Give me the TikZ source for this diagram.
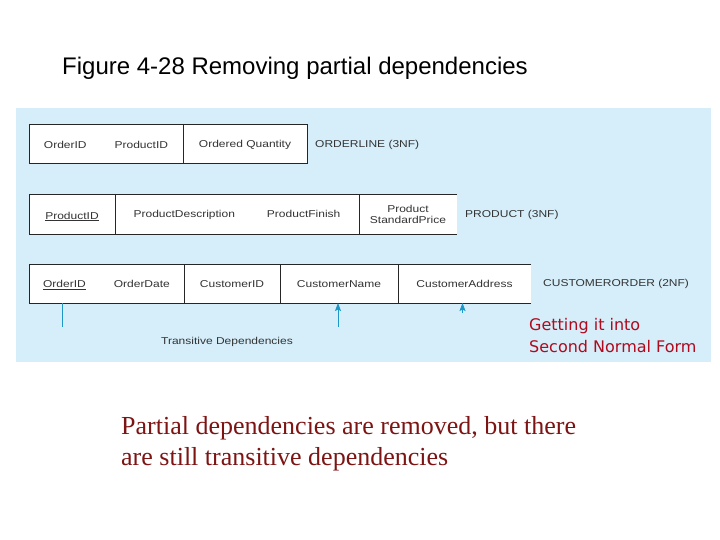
\documentclass[tikz,border=0pt]{standalone}
\usepackage{fontspec}
\setmainfont{Liberation Serif}
\newfontfamily\titlefont{Liberation Sans}
\newfontfamily\cellfont[FakeStretch=1.2]{Liberation Sans}
\newfontfamily\notefont{DejaVu Sans}
\usetikzlibrary{arrows.meta, positioning}
\definecolor{fundoA}{RGB}{213,238,250}
\definecolor{azulD}{RGB}{30,150,200}
\definecolor{vermelhoN}{RGB}{175,10,30}
\definecolor{vinhoT}{RGB}{125,20,20}
\newcommand{\chave}[1]{\raisebox{0pt}[\height][0pt]{\underline{#1}}}

\begin{document}
\begin{tikzpicture}[x=1pt, y=-1pt,
    attr/.style={rectangle, draw=black!85, line width=1pt, fill=white,
      minimum height=39pt, inner sep=0pt, outer sep=0pt,
      font=\cellfont\fontsize{10}{11.5}\selectfont, text=black!80, align=center,
      execute at begin node=\rule{0pt}{9pt}},
    openattr/.style={attr, draw=none},
    rel/.style={font=\cellfont\fontsize{10}{11.5}\selectfont, text=black!80, inner sep=0pt},
    dep/.style={draw=azulD, line width=0.9pt},
    arr/.style={dep, -{Stealth[length=8pt, width=6pt, inset=1.5pt]}}]
    \useasboundingbox (0,0) rectangle (720,540);
    \fill[fundoA] (16,108) rectangle (711,362);
    \node[font=\titlefont\fontsize{24}{28}\selectfont, anchor=base west, inner sep=0pt]
      (titulo) at (62,75) {Figure 4-28 Removing partial dependencies};
    % ORDERLINE
    \node[attr, minimum width=154pt, anchor=north west](ol1) at (29,125)
      {OrderID\hspace{28pt}ProductID};
    \node[attr, minimum width=124pt, right=0pt of ol1](ol2){Ordered Quantity};
    \node[rel, right=8pt of ol2](olr){ORDERLINE (3NF)};
    % PRODUCT
    \node[attr, minimum width=86pt, anchor=north west](p1) at (29,195)
      {\chave{ProductID}};
    \node[attr, minimum width=244pt, right=0pt of p1](p2)
      {ProductDescription\hspace{32pt}ProductFinish};
    \node[openattr, minimum width=98pt, right=0pt of p2](p3){Product\\StandardPrice};
    \draw[line width=1pt, black!85] (p3.north east) -- (p3.north west)
      -- (p3.south west) -- (p3.south east);
    \node[rel, right=8pt of p3](pr){PRODUCT (3NF)};
    % CUSTOMERORDER
    \node[attr, minimum width=155pt, anchor=north west](c1) at (29,264)
      {\chave{OrderID}\hspace{28pt}OrderDate};
    \node[attr, minimum width=96pt, right=0pt of c1](c2){CustomerID};
    \node[attr, minimum width=118pt, right=0pt of c2](c3){CustomerName};
    \node[openattr, minimum width=133pt, right=0pt of c3](c4){CustomerAddress};
    \draw[line width=1pt, black!85] (c4.north east) -- (c4.north west)
      -- (c4.south west) -- (c4.south east);
    \node[rel, right=12pt of c4](cr){CUSTOMERORDER (2NF)};
    % transitive dependencies
    \coordinate (d1) at ([xshift=33pt, yshift=-24pt]c1.south west);
    \coordinate (d2) at ([xshift=-1pt, yshift=-24pt]c3.south);
    \coordinate (d3) at ([xshift=-2pt, yshift=-10pt]c4.south);
    \draw[dep] (d1 |- c1.south) -- (d1);
    \draw[arr] (d2) -- (d2 |- c3.south);
    \draw[arr] (d3) -- (d3 |- c4.south);
    \node[rel](td) at (227,342){Transitive Dependencies};
    \node[font=\notefont\fontsize{16}{22}\selectfont, text=vermelhoN, align=left,
      anchor=north west, inner sep=0pt](nota) at (529,318)
      {Getting it into\\Second Normal Form};
    \node[font=\fontsize{26}{31}\selectfont, text=vinhoT, align=left,
      anchor=north west, inner sep=0pt](resumo) at (121,416)
      {Partial dependencies are removed, but there\\are still transitive dependencies};
  \end{tikzpicture}
\end{document}
